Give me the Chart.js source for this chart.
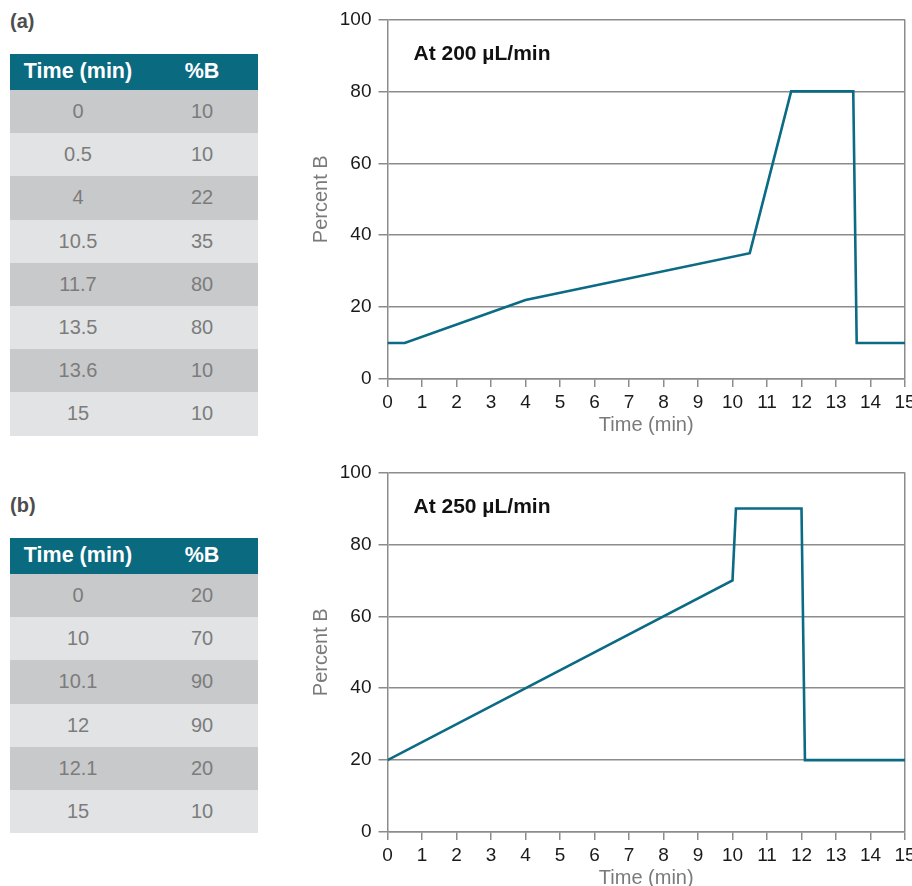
<!DOCTYPE html>
<html>
<head>
<meta charset="utf-8">
<script src="https://cdn.jsdelivr.net/npm/chart.js@4/dist/chart.umd.min.js"></script>
<style>
  html, body { margin: 0; padding: 0; background: #fff; width: 912px; height: 886px; overflow: hidden; }
  body { position: relative; font-family: "Liberation Sans", Arial, sans-serif; }
  .panel-label { position: absolute; left: 10px; font-weight: bold; font-size: 20px; color: #4d4d4d; }
  .gtable { position: absolute; left: 10px; width: 248px; }
  .gtable .row { display: flex; height: 43.2px; align-items: center; font-size: 20px; color: #7c7c7c; }
  .gtable .row.head { height: 36.5px; background: #0a6a80; color: #fff; font-weight: bold; font-size: 21.5px; }
  .gtable .row.dark { background: #c8c9cb; }
  .gtable .row.light { background: #e2e3e5; }
  .gtable .c1 { width: 136px; text-align: center; }
  .gtable .c2 { width: 112px; text-align: center; }
  .chart-box { position: absolute; left: 299px; width: 613px; height: 445px; }
</style>
</head>
<body>
<div class="panel-label" style="top:10px">(a)</div>
<div class="gtable" id="tableA" style="top:53.5px"></div>
<div class="panel-label" style="top:494px">(b)</div>
<div class="gtable" id="tableB" style="top:537.5px"></div>

<div class="chart-box" style="top:0px"><canvas id="chartA"></canvas></div>
<div class="chart-box" style="top:452.5px"><canvas id="chartB"></canvas></div>

<script>
// Gradient program tables
const tableATimes = ['0', '0.5', '4', '10.5', '11.7', '13.5', '13.6', '15'];
const tableAPercentB = ['10', '10', '22', '35', '80', '80', '10', '10'];
const tableBTimes = ['0', '10', '10.1', '12', '12.1', '15'];
const tableBPercentB = ['20', '70', '90', '90', '20', '10'];

// Plotted gradient profiles (time in min, %B)
const profileATime = [0, 0.5, 4, 10.5, 11.7, 13.5, 13.6, 15];
const profileAPercent = [10, 10, 22, 35, 80, 80, 10, 10];
const profileBTime = [0, 10, 10.1, 12, 12.1, 15];
const profileBPercent = [20, 70, 90, 90, 20, 20];

// Axis ticks and captions
const xTickValues = [0, 1, 2, 3, 4, 5, 6, 7, 8, 9, 10, 11, 12, 13, 14, 15];
const yTickValues = [0, 20, 40, 60, 80, 100];
const flowCaptions = ['At 200 \u00B5L/min', 'At 250 \u00B5L/min'];
const tableHeaders = ['Time (min)', '%B'];

function buildTable(el, times, values) {
  const head = document.createElement('div');
  head.className = 'row head';
  head.innerHTML = '<div class="c1"></div><div class="c2"></div>';
  head.children[0].textContent = tableHeaders[0];
  head.children[1].textContent = tableHeaders[1];
  el.appendChild(head);
  times.forEach((t, i) => {
    const r = document.createElement('div');
    r.className = 'row ' + (i % 2 === 0 ? 'dark' : 'light');
    r.innerHTML = '<div class="c1"></div><div class="c2"></div>';
    r.children[0].textContent = t;
    r.children[1].textContent = values[i];
    el.appendChild(r);
  });
}
buildTable(document.getElementById('tableA'), tableATimes, tableAPercentB);
buildTable(document.getElementById('tableB'), tableBTimes, tableBPercentB);

const AXIS_GREY = '#8c8c8c';
const LINE_COLOR = '#0b6b85';
const FONT = '"Liberation Sans", Arial, sans-serif';

const captionPlugin = {
  id: 'flowCaption',
  afterDraw(chart, args, opts) {
    const { ctx, chartArea } = chart;
    ctx.save();
    ctx.font = 'bold 21px ' + FONT;
    ctx.fillStyle = '#111';
    ctx.textBaseline = 'middle';
    ctx.textAlign = 'left';
    ctx.fillText(opts.text, chartArea.left + 26, chartArea.top + 35);
    ctx.restore();
  }
};

function makeChart(id, times, percents, caption) {
  const points = times.map((t, i) => ({ x: t, y: percents[i] }));
  return new Chart(document.getElementById(id), {
    type: 'line',
    data: {
      datasets: [{
        data: points,
        borderColor: LINE_COLOR,
        borderWidth: 2.6,
        pointRadius: 0,
        tension: 0,
        fill: false
      }]
    },
    options: {
      responsive: false,
      animation: false,
      devicePixelRatio: 1,
      layout: { padding: { top: 19.5, right: 7, left: 0, bottom: 0 } },
      plugins: {
        legend: { display: false },
        tooltip: { enabled: false },
        flowCaption: { text: caption }
      },
      scales: {
        x: {
          type: 'linear',
          min: 0,
          max: 15,
          afterBuildTicks(scale) { scale.ticks = xTickValues.map(v => ({ value: v })); },
          afterFit(scale) {
            scale.height = 66;
            scale.paddingLeft = 0;
            scale.paddingRight = 0;
          },
          grid: {
            color: ctx => (ctx.tick && ctx.tick.value === 15 ? AXIS_GREY : 'rgba(0,0,0,0)'),
            tickColor: AXIS_GREY,
            tickLength: 8,
            lineWidth: 1.5
          },
          border: { color: AXIS_GREY, width: 1.5 },
          ticks: {
            color: '#1a1a1a',
            font: { family: FONT, size: 19 },
            padding: 4,
            maxRotation: 0,
            autoSkip: false
          },
          title: {
            display: true,
            text: 'Time (min)',
            color: '#7a7a7a',
            font: { family: FONT, size: 20 },
            padding: { top: 0, bottom: 8 }
          }
        },
        y: {
          min: 0,
          max: 100,
          afterBuildTicks(scale) { scale.ticks = yTickValues.map(v => ({ value: v })); },
          afterFit(scale) {
            scale.width = 88.5;
            scale.paddingTop = 0;
            scale.paddingBottom = 0;
          },
          grid: {
            color: AXIS_GREY,
            tickLength: 9,
            lineWidth: 1.5
          },
          border: { color: AXIS_GREY, width: 1.5 },
          ticks: {
            color: '#1a1a1a',
            font: { family: FONT, size: 19 },
            padding: 7
          },
          title: {
            display: true,
            text: 'Percent B',
            color: '#7a7a7a',
            font: { family: FONT, size: 20 },
            padding: { top: 10, bottom: 0 }
          }
        }
      }
    },
    plugins: [captionPlugin]
  });
}

function sizeCanvas(id) {
  const c = document.getElementById(id);
  c.width = 613; c.height = 445;
  c.style.width = '613px'; c.style.height = '445px';
}
sizeCanvas('chartA');
sizeCanvas('chartB');
makeChart('chartA', profileATime, profileAPercent, flowCaptions[0]);
makeChart('chartB', profileBTime, profileBPercent, flowCaptions[1]);
</script>
</body>
</html>
